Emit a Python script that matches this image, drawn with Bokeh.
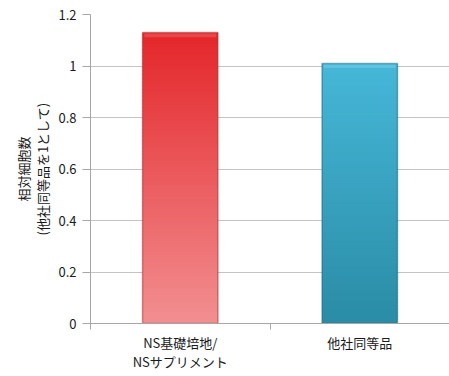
from bokeh.plotting import figure
from bokeh.models import FixedTicker, Range1d
from bokeh.embed import file_html
from bokeh.resources import INLINE

# Relative cell counts (competitor product = 1)
categories = ["NS基礎培地/\nNSサプリメント", "他社同等品"]
values = [1.13, 1.01]
y_ticks = [0, 0.2, 0.4, 0.6, 0.8, 1.0, 1.2]
y_tick_labels = ["0", "0.2", "0.4", "0.6", "0.8", "1", "1.2"]

# top / bottom colours of each bar's vertical gradient
top_colors = ["#e4262a", "#46b7d8"]
bottom_colors = ["#f28f91", "#2a8ca6"]
edge_colors = ["#a83a3c", "#1d6a80"]
highlight_colors = ["#f26a6c", "#7fd0e8"]

FONT = "Noto Sans CJK JP"
BAR_WIDTH = 0.42
N_SLICES = 80

p = figure(width=449, height=376, output_backend="svg", toolbar_location=None,
           x_range=Range1d(0, len(categories)), y_range=Range1d(0, 1.2),
           min_border_left=90, min_border_right=0, min_border_top=14,
           min_border_bottom=53)
p.outline_line_color = None
p.background_fill_color = "white"
p.border_fill_color = "white"


def hex_to_rgb(h):
    return tuple(int(h[i:i + 2], 16) for i in (1, 3, 5))


def mix(c1, c2, t):
    a, b = hex_to_rgb(c1), hex_to_rgb(c2)
    return "#%02x%02x%02x" % tuple(round(x + (y - x) * t) for x, y in zip(a, b))


# gradient bars built from thin, slightly overlapping slices
for i, v in enumerate(values):
    xc = i + 0.5
    left, right = xc - BAR_WIDTH / 2, xc + BAR_WIDTH / 2
    bottoms = [v * k / N_SLICES for k in range(N_SLICES)]
    tops = [min(v, v * (k + 1.8) / N_SLICES) for k in range(N_SLICES)]
    colors = [mix(bottom_colors[i], top_colors[i], (k + 0.5) / N_SLICES)
              for k in range(N_SLICES)]
    p.quad(left=left, right=right, bottom=bottoms, top=tops,
           fill_color=colors, line_color=None)
    # bevel highlight along the top edge
    p.quad(left=left + 0.01, right=right - 0.01, bottom=v - 0.018, top=v - 0.004,
           fill_color=highlight_colors[i], fill_alpha=0.45, line_color=None)
    # soft darker rim
    p.quad(left=left, right=right, bottom=0, top=v, fill_color=None,
           line_color=edge_colors[i], line_alpha=0.5, line_width=1.6)

# axes
p.yaxis.ticker = FixedTicker(ticks=y_ticks)
p.yaxis.major_label_overrides = {t: s for t, s in zip(y_ticks, y_tick_labels)}
p.yaxis.axis_label = "相対細胞数\n(他社同等品を1として)"
p.yaxis.axis_label_text_font = FONT
p.yaxis.axis_label_text_font_size = "13px"
p.yaxis.axis_label_text_font_style = "normal"
p.yaxis.axis_label_text_color = "#1a1a1a"
p.yaxis.axis_label_text_line_height = 1.0
p.yaxis.axis_label_standoff = 3
p.yaxis.major_label_text_font = FONT
p.yaxis.major_label_text_font_size = "13px"
p.yaxis.major_label_text_color = "#1a1a1a"
p.yaxis.major_label_standoff = 6
p.yaxis.major_tick_out = 8
p.yaxis.major_tick_in = 0
p.yaxis.minor_tick_out = 0
p.yaxis.minor_tick_in = 0
p.yaxis.axis_line_color = "#a6a6a6"
p.yaxis.major_tick_line_color = "#a6a6a6"

centers = [i + 0.5 for i in range(len(categories))]
bounds = [float(i) for i in range(len(categories) + 1)]
p.xaxis.ticker = FixedTicker(ticks=centers, minor_ticks=bounds)
p.xaxis.major_label_overrides = {c: s for c, s in zip(centers, categories)}
p.xaxis.major_label_text_font = FONT
p.xaxis.major_label_text_font_size = "13px"
p.xaxis.major_label_text_color = "#1a1a1a"
p.xaxis.major_label_text_line_height = 1.0
p.xaxis.major_label_standoff = 3
p.xaxis.major_tick_out = 0
p.xaxis.major_tick_in = 0
p.xaxis.minor_tick_out = 6
p.xaxis.minor_tick_in = 0
p.xaxis.minor_tick_line_color = "#a6a6a6"
p.xaxis.axis_line_color = "#a6a6a6"

p.xgrid.grid_line_color = None
p.ygrid.ticker = FixedTicker(ticks=y_ticks)
p.ygrid.grid_line_color = "#c4c4c4"
p.ygrid.grid_line_width = 1

open("out.html", "w").write(file_html(p, INLINE))
